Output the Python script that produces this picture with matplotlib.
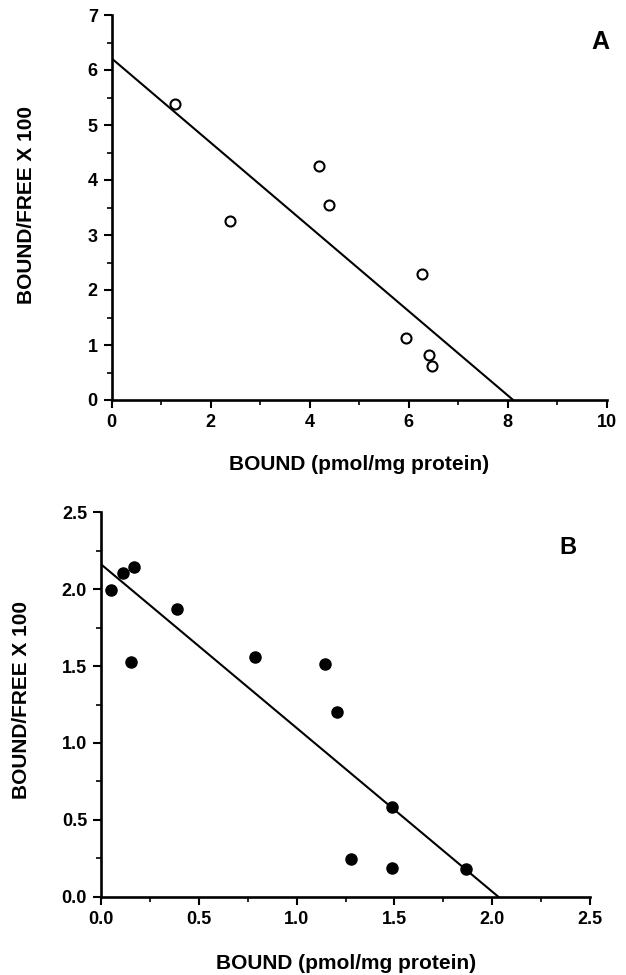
import matplotlib
matplotlib.use("Agg")
import matplotlib.pyplot as plt
from matplotlib.ticker import MultipleLocator, FormatStrFormatter

# Panel A data
a_bound = [1.28, 2.38, 4.19, 4.38, 6.27, 5.95, 6.40, 6.47]
a_ratio = [5.39, 3.25, 4.26, 3.55, 2.29, 1.12, 0.82, 0.62]
a_line_x = [0.0, 8.11]
a_line_y = [6.21, 0.0]

# Panel B data
b_bound = [0.051, 0.114, 0.167, 0.155, 0.387, 0.787, 1.145, 1.208, 1.488, 1.276, 1.488, 1.868]
b_ratio = [1.995, 2.108, 2.147, 1.524, 1.869, 1.557, 1.513, 1.201, 0.585, 0.247, 0.189, 0.178]
b_line_x = [0.0, 2.031]
b_line_y = [2.162, 0.0]

xlabel = "BOUND (pmol/mg protein)"
ylabel = "BOUND/FREE X 100"

plt.rcParams['font.family'] = ['Liberation Sans', 'DejaVu Sans']

W, H = 626, 975
fig = plt.figure(figsize=(W / 100, H / 100), dpi=100)


def axes_px(left, top, right, bottom):
    return fig.add_axes([left / W, 1 - bottom / H, (right - left) / W, (bottom - top) / H])


axA = axes_px(111.7, 15, 606.7, 400)
axB = axes_px(101, 512.3, 590, 896.7)


def style(ax):
    for s in ['top', 'right']:
        ax.spines[s].set_visible(False)
    for s in ['left', 'bottom']:
        ax.spines[s].set_linewidth(1.9)
    ax.tick_params(which='major', direction='out', length=6, width=1.5,
                   labelsize=13, pad=4)
    ax.tick_params(which='minor', direction='out', length=3.5, width=1.2)
    for lab in ax.get_xticklabels() + ax.get_yticklabels():
        lab.set_fontweight('bold')


# Panel A
axA.plot(a_line_x, a_line_y, color='black', lw=1.5)
axA.scatter(a_bound, a_ratio, s=52, facecolors='white', edgecolors='black',
            linewidths=1.5, zorder=3)
axA.set_xlim(0, 10)
axA.set_ylim(0, 7)
axA.xaxis.set_major_locator(MultipleLocator(2))
axA.xaxis.set_minor_locator(MultipleLocator(1))
axA.yaxis.set_major_locator(MultipleLocator(1))
axA.yaxis.set_minor_locator(MultipleLocator(0.5))
style(axA)

# Panel B
axB.plot(b_line_x, b_line_y, color='black', lw=1.5)
axB.scatter(b_bound, b_ratio, s=64, color='black', zorder=3)
axB.set_xlim(0, 2.5)
axB.set_ylim(0, 2.5)
axB.xaxis.set_major_locator(MultipleLocator(0.5))
axB.xaxis.set_minor_locator(MultipleLocator(0.25))
axB.yaxis.set_major_locator(MultipleLocator(0.5))
axB.yaxis.set_minor_locator(MultipleLocator(0.25))
axB.xaxis.set_major_formatter(FormatStrFormatter('%.1f'))
axB.yaxis.set_major_formatter(FormatStrFormatter('%.1f'))
style(axB)

# Axis titles and panel letters
lab_kw = dict(fontsize=15, fontweight='bold')
fig.text(359 / W, 1 - 470 / H, xlabel, ha='center', va='baseline', **lab_kw)
fig.text(346 / W, 1 - 969 / H, xlabel, ha='center', va='baseline', **lab_kw)
fig.text(27 / W, 1 - 205 / H, ylabel, ha='center', va='center', rotation=90, **lab_kw)
fig.text(22 / W, 1 - 700 / H, ylabel, ha='center', va='center', rotation=90, **lab_kw)
fig.text(600 / W, 1 - 42 / H, 'A', ha='center', va='center', fontsize=18, fontweight='heavy')
fig.text(568 / W, 1 - 547 / H, 'B', ha='center', va='center', fontsize=17, fontweight='heavy')

fig.savefig('out.png', dpi=100)
